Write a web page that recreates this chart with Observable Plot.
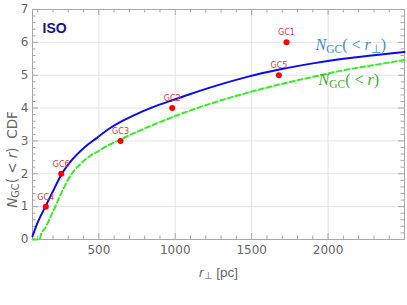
<!DOCTYPE html>
<html><head><meta charset="utf-8">
<script src="https://cdn.jsdelivr.net/npm/d3@7"></script>
<script src="https://cdn.jsdelivr.net/npm/@observablehq/plot@0.6"></script>
<style>body{margin:0;background:#fff} svg{display:block}</style>
</head><body><div id="chart"></div>
<script>
// N_GC(< r_perp) curve (solid blue)
const rBlue = [66, 100, 150, 200, 258, 320, 400, 480, 577, 642, 729, 850, 980, 1100, 1253, 1471, 1689, 1900, 2100, 2300, 2500];
const nBlue = [0.10, 0.52, 1.00, 1.47, 2.00, 2.40, 2.78, 3.07, 3.40, 3.58, 3.78, 4.02, 4.24, 4.43, 4.66, 4.95, 5.18, 5.36, 5.50, 5.61, 5.71];
// N_GC(< r) curve (dashed green)
const rGreen = [66, 112, 123, 150, 180, 214, 258, 323, 380, 433, 500, 563, 640, 760, 882, 1000, 1100, 1275, 1500, 1711, 1900, 2100, 2300, 2500];
const nGreen = [0, 0, 0.18, 0.35, 0.65, 0.99, 1.45, 2.00, 2.30, 2.51, 2.70, 2.87, 3.04, 3.30, 3.54, 3.76, 3.93, 4.20, 4.50, 4.75, 4.95, 5.15, 5.31, 5.46];
// globular clusters
const gcNames = ["GC1", "GC2", "GC3", "GC4", "GC5", "GC6"];
const gcR = [1728, 980, 642, 153, 1678, 254];
const gcN = [6, 4, 3, 1, 5, 2];
// ticks
const xMajorTicks = [500, 1000, 1500, 2000];
const xMinorTicks = d3.range(100, 2500, 100).filter(v => v % 500 !== 0);
const yMajorTicks = [0, 1, 2, 3, 4, 5, 6, 7];
const yMinorTicks = d3.range(0.2, 7, 0.2).filter(v => Math.abs(v - Math.round(v)) > 1e-6);
const panelTitle = ["ISO"];

const blue = rBlue.map((r, i) => ({r, n: nBlue[i]}));
const green = rGreen.map((r, i) => ({r, n: nGreen[i]}));
const gcs = gcNames.map((name, i) => ({name, r: gcR[i], n: gcN[i]}));

const W = 407, H = 305, mL = 32, mR = 3, mT = 9, mB = 66;
const fw = W - mL - mR, fh = H - mT - mB;
const frameGray = "#a8a8a8";
const tickCol = "#666666";

function ticksX(values, len) {
  return [
    Plot.tickX(values, {x: d => d, insetTop: fh - len, stroke: frameGray}),
    Plot.tickX(values, {x: d => d, insetBottom: fh - len, stroke: frameGray})
  ];
}
function ticksY(values, len) {
  return [
    Plot.tickY(values, {y: d => d, insetRight: fw - len, stroke: frameGray}),
    Plot.tickY(values, {y: d => d, insetLeft: fw - len, stroke: frameGray})
  ];
}

const plot = Plot.plot({
  width: W, height: H,
  marginLeft: mL, marginRight: mR, marginTop: mT, marginBottom: mB,
  x: {domain: [66, 2500]},
  y: {domain: [0, 7]},
  style: {fontFamily: "DejaVu Sans", background: "white"},
  marks: [
    Plot.gridX(xMajorTicks, {stroke: "#e4e4e4", strokeOpacity: 1}),
    Plot.gridY(yMajorTicks.slice(1, -1), {stroke: "#e4e4e4", strokeOpacity: 1}),
    Plot.frame({stroke: frameGray}),
    ...ticksX(xMajorTicks, 6), ...ticksX(xMinorTicks, 3.5),
    ...ticksY(yMajorTicks.slice(1, -1), 6), ...ticksY(yMinorTicks, 3.5),
    Plot.axisX(xMajorTicks, {tickSize: 0, tickPadding: 6, fontSize: 12, fill: tickCol, label: null, tickFormat: d => String(d)}),
    Plot.axisY(yMajorTicks, {tickSize: 0, tickPadding: 4, fontSize: 12, fill: tickCol, label: null, tickFormat: d => String(d)}),
    Plot.line(green, {x: "r", y: "n", stroke: "#33ee22", strokeWidth: 2, strokeDasharray: "5,3", curve: "monotone-x"}),
    Plot.line(blue, {x: "r", y: "n", stroke: "#0a0aee", strokeWidth: 2, curve: "monotone-x"}),
    Plot.dot(gcs, {x: "r", y: "n", r: 3, fill: "#ff0000", stroke: "none"}),
    Plot.text(gcs, {x: "r", y: "n", text: "name", dy: -7, lineAnchor: "bottom", fontSize: 8, fill: "#d23c3c"}),
    Plot.text(panelTitle, {text: d => d, frameAnchor: "top-left", dx: 10, dy: 23, textAnchor: "start", lineAnchor: "bottom", fontWeight: "bold", fontSize: 14, fontFamily: "Liberation Sans", fill: "#15158c"}),
    Plot.text(["lblBlue"], {text: d => d, frameAnchor: "top-right", dx: -89, dy: 40, textAnchor: "start", lineAnchor: "bottom", fontSize: 16, fontFamily: "Liberation Serif", fill: "#3a8fd0"}),
    Plot.text(["lblGreen"], {text: d => d, frameAnchor: "top-right", dx: -86, dy: 75, textAnchor: "start", lineAnchor: "bottom", fontSize: 16, fontFamily: "Liberation Serif", fill: "#3fae2a"}),
    Plot.text(["lblY"], {text: d => d, frameAnchor: "left", dx: -16, dy: 35, rotate: -90, textAnchor: "middle", lineAnchor: "bottom", fontSize: 13.5, fill: tickCol}),
    Plot.text(["lblX"], {text: d => d, frameAnchor: "bottom", dx: 0, dy: 37, textAnchor: "middle", lineAnchor: "bottom", fontSize: 13.5, fontFamily: "Liberation Sans", fill: tickCol})
  ]
});

const svg = d3.select(plot);
function rich(label, fs, parts) {
  const t = svg.selectAll("text").filter(function() { return this.textContent === label; });
  t.text(null).style("white-space", "pre");
  let shifted = 0;
  parts.forEach(p => {
    const ts = t.append("tspan").text(p.t);
    if (p.i) ts.attr("font-style", "italic");
    if (p.sub) {
      ts.attr("font-size", (fs * 0.72) + "px");
      if (!shifted) { ts.attr("dy", (fs * 0.22) + "px"); shifted = 1; }
    } else if (shifted) {
      ts.attr("dy", (-fs * 0.22) + "px"); shifted = 0;
    }
  });
}
rich("lblBlue", 16, [{t: "N", i: 1}, {t: "GC", sub: 1}, {t: "(\u00a0<\u00a0"}, {t: "r", i: 1}, {t: "\u22a5", sub: 1}, {t: ")"}]);
rich("lblGreen", 16, [{t: "N", i: 1}, {t: "GC", sub: 1}, {t: "(\u00a0<\u00a0"}, {t: "r", i: 1}, {t: ")"}]);
rich("lblY", 13.5, [{t: "N", i: 1}, {t: "GC", sub: 1}, {t: "(\u00a0<\u00a0"}, {t: "r", i: 1}, {t: ")\u00a0\u00a0CDF"}]);
rich("lblX", 13.5, [{t: "r", i: 1}, {t: "\u22a5", sub: 1}, {t: " [pc]"}]);

document.getElementById("chart").appendChild(plot);
</script>
</body></html>
